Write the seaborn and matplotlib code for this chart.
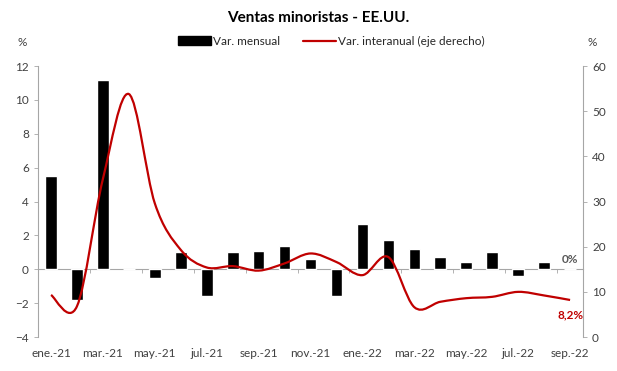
import numpy as np
import pandas as pd
import seaborn as sns
from matplotlib import pyplot as plt
from matplotlib.patches import Patch, PathPatch
from matplotlib.lines import Line2D
from matplotlib.path import Path

meses = ["ene.-21", "feb.-21", "mar.-21", "abr.-21", "may.-21", "jun.-21", "jul.-21",
         "ago.-21", "sep.-21", "oct.-21", "nov.-21", "dic.-21", "ene.-22", "feb.-22",
         "mar.-22", "abr.-22", "may.-22", "jun.-22", "jul.-22", "ago.-22", "sep.-22"]
var_mensual = [5.5, -1.8, 11.2, 0.0, -0.5, 1.0, -1.6, 1.0, 1.1, 1.4, 0.6, -1.6,
               2.7, 1.7, 1.2, 0.7, 0.4, 1.0, -0.4, 0.4, 0.0]
var_interanual = [9.3, 6.8, 35.0, 53.8, 29.6, 19.3, 15.4, 15.7, 14.7, 16.3, 18.5, 16.6,
                  13.7, 17.7, 6.6, 7.8, 8.6, 8.9, 10.0, 9.2, 8.2]

df = pd.DataFrame({"mes": meses, "mensual": var_mensual, "interanual": var_interanual})

sns.set_style("white")
plt.rcParams["font.family"] = ["Lato", "DejaVu Sans"]

gris = "#595959"
rojo = "#C00000"
eje = "#A6A6A6"


def smooth_path(xs, ys):
    # excel-style smoothed line: catmull-rom segments as cubic bezier
    pts = np.column_stack([xs, ys]).astype(float)
    verts = [pts[0]]
    codes = [Path.MOVETO]
    n = len(pts)
    for i in range(n - 1):
        p0 = pts[max(i - 1, 0)]
        p1 = pts[i]
        p2 = pts[i + 1]
        p3 = pts[min(i + 2, n - 1)]
        c1 = p1 + (p2 - p0) / 6
        c2 = p2 - (p3 - p1) / 6
        verts += [c1, c2, p2]
        codes += [Path.CURVE4] * 3
    return Path(verts, codes)


fig = plt.figure(figsize=(6.17, 3.71), dpi=100)
ax = fig.add_axes([0.0616, 0.0916, 0.8834, 0.7304])

sns.barplot(data=df, x="mes", y="mensual", color="black", width=0.45,
            saturation=1, ax=ax)
ax.set_ylim(-4, 12)
ax.set_yticks(range(-4, 13, 2))
ax.set_xlim(-0.5, len(meses) - 0.5)
ax.set_xticks(range(0, len(meses), 2))
ax.set_xticklabels(meses[::2])
ax.set_xlabel("")
ax.set_ylabel("")

# category axis drawn at zero, ticks every two months
zero = ax.secondary_xaxis(0.25)
zero.set_xticks(np.arange(-0.5, len(meses), 2))
zero.set_xticklabels([])
zero.tick_params(length=3, width=0.6, color=eje)
zero.spines["bottom"].set_color(eje)
zero.spines["bottom"].set_linewidth(0.8)

ax2 = ax.twinx()
ax2.add_patch(PathPatch(smooth_path(np.arange(len(meses)), df["interanual"]),
                        facecolor="none", edgecolor=rojo, lw=1.6))
ax2.set_ylim(0, 60)
ax2.set_yticks(range(0, 61, 10))

for a in (ax, ax2):
    for s in a.spines.values():
        s.set_visible(False)
    a.tick_params(labelsize=8.5, colors="#404040", length=3, width=0.6)
ax.spines["left"].set_visible(True)
ax.spines["left"].set_color(eje)
ax2.spines["right"].set_visible(True)
ax2.spines["right"].set_color(eje)
ax.tick_params(axis="y", color=eje)
ax2.tick_params(axis="y", color=eje)
ax.tick_params(axis="x", length=0, pad=8)

ax.text(len(meses) - 1, 0.25, "0%", ha="center", va="bottom", fontsize=8.5,
        fontweight="bold", color=gris)
ax2.text(len(meses) - 1, 6.2, "8,2%", ha="center", va="top", fontsize=8.5,
         fontweight="bold", color=rojo)

fig.text(0.515, 0.952, "Ventas minoristas - EE.UU.", ha="center", va="center",
         fontsize=11, fontweight="bold", color="black")
fig.text(0.036, 0.885, "%", ha="center", va="center", fontsize=8.5, color="#404040")
fig.text(0.96, 0.885, "%", ha="center", va="center", fontsize=8.5, color="#404040")

handles = [Patch(facecolor="black", edgecolor="black"),
           Line2D([0], [0], color=rojo, lw=1.6)]
fig.legend(handles, ["Var. mensual", "Var. interanual (eje derecho)"],
           loc="center", bbox_to_anchor=(0.537, 0.888), ncol=2, frameon=False,
           fontsize=8.5, handlelength=2.8, handleheight=0.8, columnspacing=2.0,
           handletextpad=0.15)

fig.savefig("out.png", dpi=100)
